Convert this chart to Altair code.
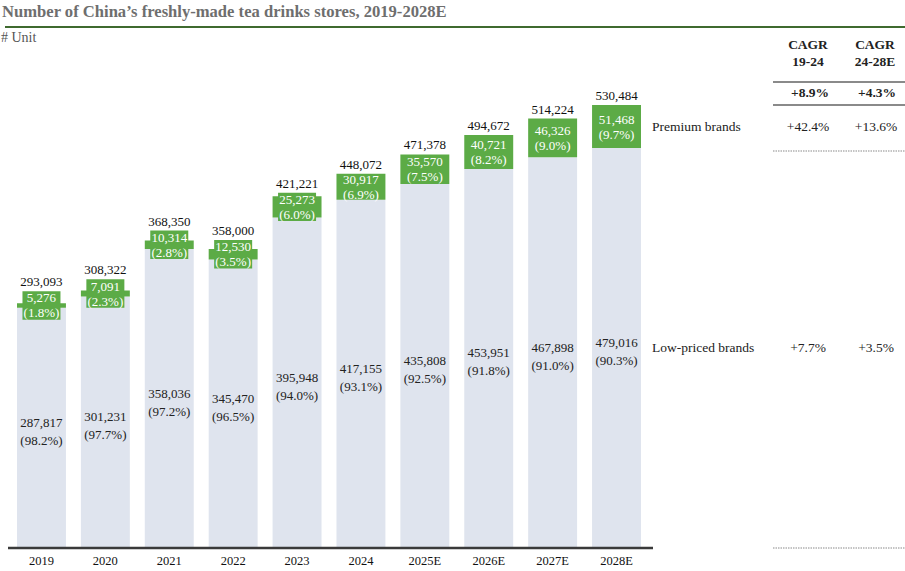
import altair as alt
import pandas as pd

years = ["2019", "2020", "2021", "2022", "2023", "2024", "2025E", "2026E", "2027E", "2028E"]
low = [287817, 301231, 358036, 345470, 395948, 417155, 435808, 453951, 467898, 479016]
prem = [5276, 7091, 10314, 12530, 25273, 30917, 35570, 40721, 46326, 51468]
total = [293093, 308322, 368350, 358000, 421221, 448072, 471378, 494672, 514224, 530484]
low_pct = ["98.2%", "97.7%", "97.2%", "96.5%", "94.0%", "93.1%", "92.5%", "91.8%", "91.0%", "90.3%"]
prem_pct = ["1.8%", "2.3%", "2.8%", "3.5%", "6.0%", "6.9%", "7.5%", "8.2%", "9.0%", "9.7%"]

title = "Number of China\u2019s freshly-made tea drinks stores, 2019-2028E"
unit = "#  Unit"
col_heads = ["CAGR\n19-24", "CAGR\n24-28E"]
total_cagr = ["+8.9%", "+4.3%"]
rows = ["Premium brands", "Low-priced brands"]
cagr_1924 = ["+42.4%", "+7.7%"]
cagr_2428 = ["+13.6%", "+3.5%"]

FONT = "Liberation Serif"
GREEN = "#5cab46"
LIGHT = "#dfe4ee"
COL1, COL2 = 808, 875

df = pd.DataFrame({"year": years, "low": low, "prem": prem, "total": total,
                   "low_pct": low_pct, "prem_pct": prem_pct})

xenc = alt.X("year:N", sort=years, axis=None,
             scale=alt.Scale(range=[17, 641], paddingInner=0.234, paddingOuter=0))
yscale = alt.Scale(domain=[0, 600000], range=[548, 47], nice=False, zero=True)

base = alt.Chart(df).transform_calculate(
    mid="datum.low + datum.prem/2",
    lowmid="datum.low/2",
    boxlo="datum.low + datum.prem/2 - 17000",
    boxhi="datum.low + datum.prem/2 + 17000",
    labtop="datum.prem < 28000 ? max(datum.total, datum.low + datum.prem/2 + 17000) : datum.total",
    premlab="format(datum.prem, ',') + '\\n(' + datum.prem_pct + ')'",
    lowlab="format(datum.low, ',') + '\\n(' + datum.low_pct + ')'",
)

low_bar = base.mark_bar(color=LIGHT).encode(
    x=xenc, y=alt.Y("low:Q", scale=yscale, axis=None))
prem_bar = base.mark_bar(color=GREEN).encode(
    x=xenc, y=alt.Y("low:Q", scale=yscale, axis=None), y2="total:Q")
box = base.transform_filter("datum.prem < 28000").mark_bar(color=GREEN, width=38).encode(
    x=xenc, y=alt.Y("boxlo:Q", scale=yscale, axis=None), y2="boxhi:Q")

tot_txt = base.mark_text(font=FONT, fontSize=13, baseline="bottom", dy=-2, color="#111").encode(
    x=xenc, y=alt.Y("labtop:Q", scale=yscale, axis=None), text=alt.Text("total:Q", format=","))
prem_txt = base.mark_text(font=FONT, fontSize=13, baseline="middle", lineBreak="\n",
                          lineHeight=15, dy=-7, color="white").encode(
    x=xenc, y=alt.Y("mid:Q", scale=yscale, axis=None), text="premlab:N")
low_txt = base.mark_text(font=FONT, fontSize=13, baseline="middle", lineBreak="\n",
                         lineHeight=18, color="#222", dy=-5).encode(
    x=xenc, y=alt.Y("lowmid:Q", scale=yscale, axis=None), text="lowlab:N")
year_txt = base.mark_text(font=FONT, fontSize=12.5, baseline="middle", color="#111").encode(
    x=xenc, y=alt.value(561), text="year:N")

one = alt.Chart(pd.DataFrame({"t": [title], "u": [unit]}))
title_txt = one.mark_text(font=FONT, fontSize=16.6, fontWeight="bold", color="#6e6e6e",
                          align="left", baseline="alphabetic").encode(
    x=alt.value(2), y=alt.value(17), text="t:N")
title_rule = one.mark_rule(color="#3f6a2f", strokeWidth=2).encode(
    x=alt.value(5), x2=alt.value(905), y=alt.value(27))
unit_txt = one.mark_text(font=FONT, fontSize=14, color="#555", align="left",
                         baseline="middle").encode(x=alt.value(1), y=alt.value(38), text="u:N")
baseline_rule = one.mark_rule(color="#3a3a3a", strokeWidth=2.5).encode(
    x=alt.value(8), x2=alt.value(653), y=alt.value(548))

table_rule1 = one.mark_rule(color="#8a8a8a", strokeWidth=2).encode(
    x=alt.value(773), x2=alt.value(905), y=alt.value(82))
table_rule2 = one.mark_rule(color="#8a8a8a", strokeWidth=2).encode(
    x=alt.value(773), x2=alt.value(905), y=alt.value(105))
dot_rule1 = one.mark_rule(color="#8a8a8a", strokeWidth=1.2, strokeDash=[1.5, 1]).encode(
    x=alt.value(773), x2=alt.value(905), y=alt.value(151))
dot_rule2 = one.mark_rule(color="#8a8a8a", strokeWidth=1.2, strokeDash=[1.5, 1]).encode(
    x=alt.value(773), x2=alt.value(905), y=alt.value(548))

heads = alt.Chart(pd.DataFrame({"h": col_heads, "c": total_cagr}))
head1 = heads.transform_filter(alt.datum.h == col_heads[0])
head2 = heads.transform_filter(alt.datum.h == col_heads[1])
hdr_style = dict(font=FONT, fontSize=13.5, fontWeight="bold", color="#222",
                 lineBreak="\n", lineHeight=17, baseline="middle")
h1 = head1.mark_text(**hdr_style).encode(x=alt.value(COL1), y=alt.value(45), text="h:N")
h2 = head2.mark_text(**hdr_style).encode(x=alt.value(COL2), y=alt.value(45), text="h:N")
c1 = head1.mark_text(**hdr_style).encode(x=alt.value(COL1 + 2), y=alt.value(93), text="c:N")
c2 = head2.mark_text(**hdr_style).encode(x=alt.value(COL2 + 2), y=alt.value(93), text="c:N")

rows_df = pd.DataFrame({"row": rows, "c1": cagr_1924, "c2": cagr_2428,
                        "ypos": [low[-1] + prem[-1] / 2, low[-1] / 2]})
rc = alt.Chart(rows_df)
row_style = dict(font=FONT, fontSize=13.5, color="#222", baseline="middle")
r_lab = rc.mark_text(align="left", **row_style).encode(
    x=alt.value(652), y=alt.Y("ypos:Q", scale=yscale, axis=None), text="row:N")
r_c1 = rc.mark_text(**row_style).encode(
    x=alt.value(COL1), y=alt.Y("ypos:Q", scale=yscale, axis=None), text="c1:N")
r_c2 = rc.mark_text(**row_style).encode(
    x=alt.value(COL2 + 1), y=alt.Y("ypos:Q", scale=yscale, axis=None), text="c2:N")

chart = alt.layer(
    low_bar, prem_bar, box, tot_txt, prem_txt, low_txt, year_txt,
    title_txt, title_rule, unit_txt, baseline_rule,
    table_rule1, table_rule2, dot_rule1, dot_rule2,
    h1, h2, c1, c2, r_lab, r_c1, r_c2,
).properties(
    width=905, height=571, autosize=alt.AutoSizeParams(type="none"), padding=0,
    background="white",
).configure_view(stroke=None)

chart.save("out.html", embed_options={"renderer": "svg", "actions": False})
